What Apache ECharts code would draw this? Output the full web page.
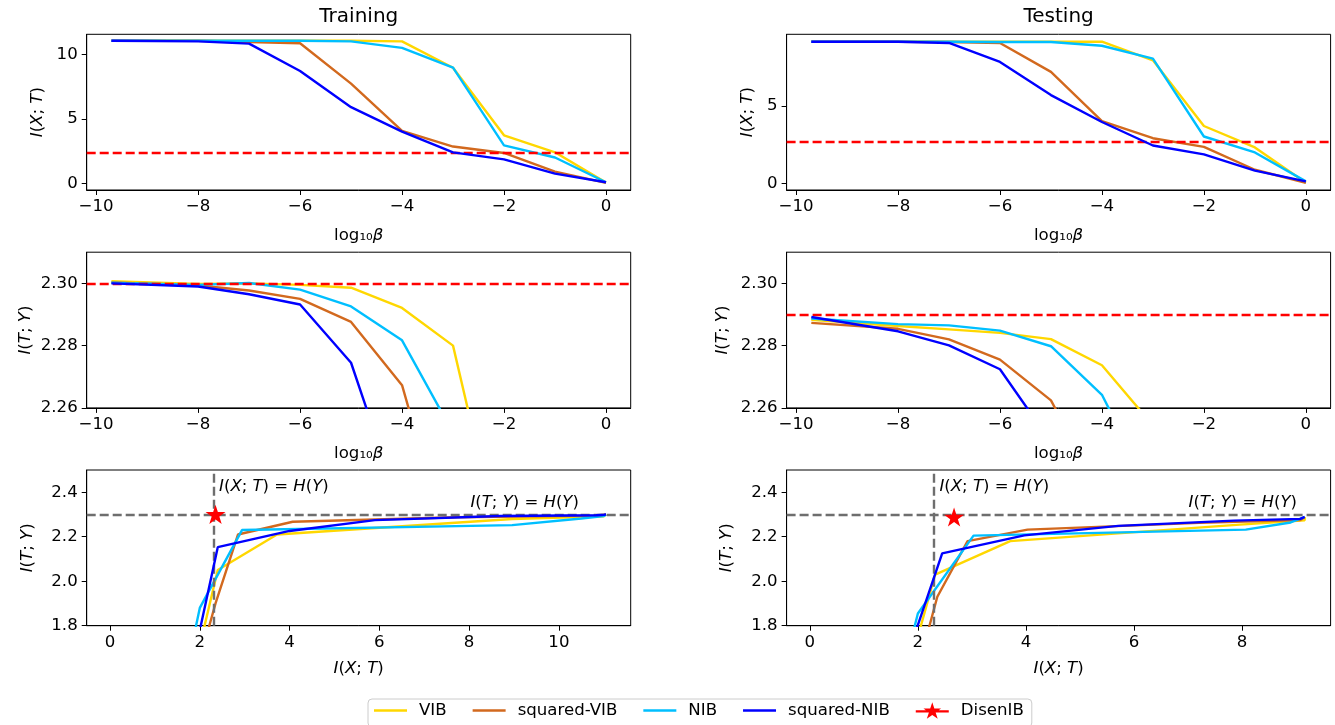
<!DOCTYPE html>
<html>
<head>
<meta charset="utf-8">
<script src="https://cdn.jsdelivr.net/npm/echarts@6/dist/echarts.min.js"></script>
<style>html,body{margin:0;padding:0;background:#fff}#container{width:1335px;height:725px}</style>
</head>
<body>
<div id="container"></div>
<script>
// x of the first two rows: log10(beta)
var logBeta = [-9.7, -8, -7, -6, -5, -4, -3, -2, -1, 0];

var methods = ['VIB', 'squared-VIB', 'NIB', 'squared-NIB'];
var colors = ['#FFD700', '#D2691E', '#00BFFF', '#0000FF'];

// I(X;T), training
var ixtTrainVIB   = [11.05, 11.05, 11.05, 11.05, 11.05, 11.0, 8.96, 3.72, 2.4, 0.05];
var ixtTrainSqVIB = [11.05, 11.05, 10.95, 10.86, 7.73, 4.07, 2.85, 2.35, 0.9, 0.03];
var ixtTrainNIB   = [11.05, 11.05, 11.05, 11.05, 11.0, 10.5, 8.96, 2.94, 2.0, 0.08];
var ixtTrainSqNIB = [11.05, 11.0, 10.83, 8.7, 5.9, 4.0, 2.4, 1.85, 0.75, 0.08];
// I(T;Y), training
var ityTrainVIB   = [2.3007, 2.2998, 2.3000, 2.2995, 2.2986, 2.2921, 2.2800, 2.21, 2.05, 0.05];
var ityTrainSqVIB = [2.3003, 2.2993, 2.2977, 2.2950, 2.2876, 2.2673, 2.21, 1.90, 0.85, 0.03];
var ityTrainNIB   = [2.3002, 2.2995, 2.3001, 2.2980, 2.2926, 2.2817, 2.252, 2.23, 1.88, 0.05];
var ityTrainSqNIB = [2.3000, 2.2990, 2.2965, 2.2932, 2.2745, 2.226, 2.153, 1.64, 0.70, 0.05];

// I(X;T), testing
var ixtTestVIB   = [9.16, 9.16, 9.16, 9.16, 9.16, 9.16, 7.96, 3.71, 2.32, 0.04];
var ixtTestSqVIB = [9.16, 9.16, 9.14, 9.08, 7.21, 4.03, 2.92, 2.36, 0.88, 0.04];
var ixtTestNIB   = [9.16, 9.16, 9.16, 9.14, 9.14, 8.9, 8.07, 3.03, 2.0, 0.13];
var ixtTestSqNIB = [9.16, 9.16, 9.08, 7.85, 5.71, 3.97, 2.45, 1.87, 0.82, 0.13];
// I(T;Y), testing
var ityTestVIB   = [2.2883, 2.2863, 2.2852, 2.2841, 2.2821, 2.2737, 2.2544, 2.18, 2.03, 0.04];
var ityTestSqVIB = [2.2873, 2.2854, 2.2820, 2.2755, 2.2624, 2.232, 2.18, 1.93, 0.6, 0.03];
var ityTestNIB   = [2.2887, 2.2869, 2.2865, 2.2848, 2.2798, 2.2642, 2.232, 2.205, 1.855, 0.05];
var ityTestSqNIB = [2.2892, 2.2846, 2.2801, 2.2724, 2.249, 2.206, 2.125, 1.71, 0.7, 0.05];

// DisenIB: [I(X;T), I(T;Y)]
var disenTrain = [2.35, 2.3005];
var disenTest = [2.67, 2.2889];
var HY = 2.3026; // H(Y) = ln 10

var betaTicks = [-10, -8, -6, -4, -2, 0];
var ixtTicksTrain = [0, 5, 10];
var ixtTicksTest = [0, 5];
var ityTicksMid = [2.26, 2.28, 2.30];
var ityTicksBot = [1.8, 2.0, 2.2, 2.4];
var planeXTicksTrain = [0, 2, 4, 6, 8, 10];
var planeXTicksTest = [0, 2, 4, 6, 8];

var notesTrain = [[2.43, 2.424, 'ixt'], [8.03, 2.352, 'ity']];
var notesTest = [[2.40, 2.424, 'ixt'], [7.01, 2.352, 'ity']];

var FONT = 'DejaVu Sans';
var ixtName = '{i|I}{n|(}{i|X}{n|; }{i|T}{n|)}';
var ityName = '{i|I}{n|(}{i|T}{n|; }{i|Y}{n|)}';
var betaName = '{n|log₁₀}{i|β}';
var rich = {
	i: {fontStyle: 'italic', fontSize: 16.6, fontFamily: FONT, color: '#000'},
	n: {fontSize: 16.6, fontFamily: FONT, color: '#000'}
};
var starPath = 'path://M50,0 L61.2,34.5 L97.6,34.5 L68.2,55.9 L79.4,90.5 L50,69.1 L20.6,90.5 L31.8,55.9 L2.4,34.5 L38.8,34.5 Z';
var lineIcon = 'path://M0,0 H100 V7 H0 Z';
var starLineIcon = 'path://M0,24.5 H100 V31.5 H0 Z M50,0 L56.27,19.32 L76.66,19.32 L60.19,31.3 L66.46,50.68 L50,38.7 L33.54,50.68 L39.81,31.3 L23.34,19.32 L43.73,19.32 Z';

function pair(a, b) {
	var out = [];
	for(var i = 0; i < a.length; i++) {
		out.push([a[i], b[i]]);
	}
	return out;
}
function minus(v) {
	return v < 0 ? '\u2212' + (-v) : String(v);
}

var colLeft = [86.7, 786.6];
var rowTop = [34.3, 252.2, 470];
var grids = [];
for(var r = 0; r < 3; r++) {
	for(var c = 0; c < 2; c++) {
		grids.push({
			left: colLeft[c], top: rowTop[r], width: 544, height: 155.7,
			show: true, borderColor: '#000', borderWidth: 1, backgroundColor: 'transparent'
		});
	}
}

function axisX(idx, min, max, ticks, name, gap, fmt) {
	return {
		type: 'value', gridIndex: idx, min: min, max: max,
		name: name, nameLocation: 'middle', nameGap: gap,
		nameTextStyle: {rich: rich},
		axisLine: {show: true, onZero: false, lineStyle: {color: '#000', width: 1}},
		axisTick: {show: true, length: 5, customValues: ticks, lineStyle: {color: '#000', width: 1}},
		axisLabel: {customValues: ticks, formatter: fmt, fontSize: 16.6, fontFamily: FONT, color: '#000', margin: 8},
		splitLine: {show: false}
	};
}
function axisY(idx, min, max, ticks, name, gap, fmt) {
	return {
		type: 'value', gridIndex: idx, min: min, max: max,
		name: name, nameLocation: 'middle', nameGap: gap, nameRotate: 90,
		nameTextStyle: {rich: rich},
		axisLine: {show: true, onZero: false, lineStyle: {color: '#000', width: 1}},
		axisTick: {show: true, length: 5, customValues: ticks, lineStyle: {color: '#000', width: 1}},
		axisLabel: {customValues: ticks, formatter: fmt, fontSize: 16.6, fontFamily: FONT, color: '#000', margin: 9},
		splitLine: {show: false}
	};
}

var xAxes = [
	axisX(0, -10.185, 0.485, betaTicks, betaName, 37, minus),
	axisX(1, -10.185, 0.485, betaTicks, betaName, 37, minus),
	axisX(2, -10.185, 0.485, betaTicks, betaName, 37, minus),
	axisX(3, -10.185, 0.485, betaTicks, betaName, 37, minus),
	axisX(4, -0.52, 11.6, planeXTicksTrain, ixtName, 34, minus),
	axisX(5, -0.43, 9.64, planeXTicksTest, ixtName, 34, minus)
];
var f0 = function(v) { return String(Math.round(v)); };
var f2 = function(v) { return v.toFixed(2); };
var f1 = function(v) { return v.toFixed(1); };
var yAxes = [
	axisY(0, -0.52, 11.55, ixtTicksTrain, ixtName, 41, f0),
	axisY(1, -0.43, 9.64, ixtTicksTest, ixtName, 30, f0),
	axisY(2, 2.26, 2.31, ityTicksMid, ityName, 53, f2),
	axisY(3, 2.26, 2.31, ityTicksMid, ityName, 55, f2),
	axisY(4, 1.8, 2.5, ityTicksBot, ityName, 51, f1),
	axisY(5, 1.8, 2.5, ityTicksBot, ityName, 51, f1)
];

var ixtSets = [[ixtTrainVIB, ixtTrainSqVIB, ixtTrainNIB, ixtTrainSqNIB], [ixtTestVIB, ixtTestSqVIB, ixtTestNIB, ixtTestSqNIB]];
var itySets = [[ityTrainVIB, ityTrainSqVIB, ityTrainNIB, ityTrainSqNIB], [ityTestVIB, ityTestSqVIB, ityTestNIB, ityTestSqNIB]];
var disen = [disenTrain, disenTest];
var notes = [notesTrain, notesTest];

var series = [];
var LW = 2.4;
var dash = [9, 4];
for(var c = 0; c < 2; c++) {
	for(var k = 0; k < 4; k++) {
		var ixt = ixtSets[c][k], ity = itySets[c][k];
		var rows = [pair(logBeta, ixt), pair(logBeta, ity), pair(ixt, ity)];
		for(var r = 0; r < 3; r++) {
			series.push({
				name: methods[k], type: 'line',
				xAxisIndex: r * 2 + c, yAxisIndex: r * 2 + c,
				data: rows[r], symbol: 'none', clip: true,
				lineStyle: {color: colors[k], width: LW}, itemStyle: {color: colors[k]},
				z: 2 + k
			});
		}
	}
	// red dashed DisenIB levels
	for(var r = 0; r < 2; r++) {
		series.push({
			name: 'disen-ref', type: 'line', xAxisIndex: r * 2 + c, yAxisIndex: r * 2 + c,
			data: [], silent: true, z: 10,
			markLine: {
				silent: true, symbol: ['none', 'none'], animation: false,
				label: {show: false},
				lineStyle: {color: '#FF0000', width: LW, type: dash},
				data: [{yAxis: disen[c][r]}]
			}
		});
	}
	// grey H(Y) lines on the information plane
	series.push({
		name: 'hy-ref', type: 'line', xAxisIndex: 4 + c, yAxisIndex: 4 + c,
		data: [], silent: true, z: 10,
		markLine: {
			silent: true, symbol: ['none', 'none'], animation: false,
			label: {show: false},
			lineStyle: {color: '#6e6e6e', width: LW, type: dash},
			data: [{xAxis: HY}, {yAxis: HY}]
		}
	});
	series.push({
		name: 'notes', type: 'scatter', xAxisIndex: 4 + c, yAxisIndex: 4 + c,
		data: notes[c], symbol: 'circle', symbolSize: 0.01, silent: true, z: 11,
		itemStyle: {color: '#000', opacity: 1},
		label: {
			show: true, position: 'right', distance: 0, color: '#000', opacity: 1,
			formatter: function(p) {
				return p.value[2] === 'ixt'
					? '{i|I}{n|(}{i|X}{n|; }{i|T}{n|) = }{i|H}{n|(}{i|Y}{n|)}'
					: '{i|I}{n|(}{i|T}{n|; }{i|Y}{n|) = }{i|H}{n|(}{i|Y}{n|)}';
			},
			rich: {
				i: {fontStyle: 'italic', fontSize: 16.5, fontFamily: FONT, color: '#000'},
				n: {fontSize: 16.5, fontFamily: FONT, color: '#000'}
			}
		}
	});
	series.push({
		name: 'DisenIB', type: 'line', xAxisIndex: 4 + c, yAxisIndex: 4 + c,
		data: [disen[c]], symbol: starPath, symbolSize: 20, symbolKeepAspect: true,
		showSymbol: true, z: 12,
		itemStyle: {color: '#FF0000'}, lineStyle: {color: '#FF0000', width: LW}
	});
}

var dom = document.getElementById('container');
var myChart = echarts.init(dom, null, {renderer: 'canvas'});
var option = {
	animation: false,
	backgroundColor: '#fff',
	textStyle: {fontFamily: FONT},
	title: [
		{text: 'Training', left: 358.8, top: 7, textAlign: 'center', padding: 0,
			textStyle: {fontSize: 20, fontWeight: 'normal', color: '#000', fontFamily: FONT}},
		{text: 'Testing', left: 1058.6, top: 7, textAlign: 'center', padding: 0,
			textStyle: {fontSize: 20, fontWeight: 'normal', color: '#000', fontFamily: FONT}}
	],
	legend: {
		data: [
			{name: 'VIB', icon: lineIcon},
			{name: 'squared-VIB', icon: lineIcon},
			{name: 'NIB', icon: lineIcon},
			{name: 'squared-NIB', icon: lineIcon},
			{name: 'DisenIB', icon: starLineIcon}
		],
		left: 368, top: 699, orient: 'horizontal',
		itemWidth: 33, itemHeight: 18, itemGap: 26,
		borderColor: '#cccccc', borderWidth: 1, borderRadius: 4,
		padding: [3, 8, 8, 6],
		textStyle: {fontSize: 16.6, fontFamily: FONT, color: '#000', padding: [0, 0, 0, 7]}
	},
	grid: grids,
	xAxis: xAxes,
	yAxis: yAxes,
	series: series
};
myChart.setOption(option);
</script>
</body>
</html>
